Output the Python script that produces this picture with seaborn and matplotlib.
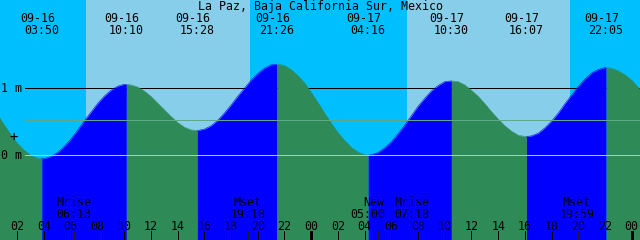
import numpy as np
import pandas as pd
import matplotlib
matplotlib.use("Agg")
import matplotlib.pyplot as plt
import matplotlib.transforms as mtransforms
import seaborn as sns

# ---------------- data ----------------
title = "La Paz, Baja California Sur, Mexico"

# tide level readings (m) every half hour since 09-16 00:00
hours = [i * 0.5 for i in range(0, 99)]
levels = [0.77, 0.61, 0.46, 0.31, 0.18, 0.08, 0.00, -0.04, -0.05, -0.02,
          0.04, 0.13, 0.24, 0.37, 0.51, 0.64, 0.77, 0.88, 0.97, 1.03,
          1.06, 1.05, 1.02, 0.96, 0.88, 0.78, 0.68, 0.58, 0.49, 0.42,
          0.38, 0.37, 0.39, 0.44, 0.52, 0.63, 0.75, 0.88, 1.00, 1.12,
          1.22, 1.30, 1.35, 1.36, 1.34, 1.28, 1.19, 1.08, 0.94, 0.79,
          0.63, 0.48, 0.34, 0.22, 0.12, 0.05, 0.01, 0.01, 0.04, 0.11,
          0.20, 0.32, 0.45, 0.59, 0.73, 0.85, 0.96, 1.04, 1.10, 1.11,
          1.10, 1.05, 0.97, 0.88, 0.77, 0.65, 0.54, 0.44, 0.36, 0.30,
          0.28, 0.29, 0.33, 0.41, 0.51, 0.63, 0.77, 0.90, 1.03, 1.14,
          1.23, 1.28, 1.31, 1.30, 1.26, 1.20, 1.12, 1.01, 0.89]

# high / low tide events
event_dates = ["09-16", "09-16", "09-16", "09-16", "09-17", "09-17", "09-17", "09-17"]
event_times = ["03:50", "10:10", "15:28", "21:26", "04:16", "10:30", "16:07", "22:05"]
event_levels = [-0.05, 1.06, 0.37, 1.36, 0.00, 1.11, 0.28, 1.31]

# sun
sunrise_dates = ["09-16", "09-17"]
sunrise_times = ["07:09", "07:11"]
sunset_times = ["19:25", "19:23"]

# moon events
moon_names = ["Mrise", "Mset", "New", "Mrise", "Mset"]
moon_dates = ["09-16", "09-16", "09-17", "09-17", "09-17"]
moon_times = ["06:13", "19:18", "05:00", "07:18", "19:59"]

y_label_texts = ["1 m", "0 m"]
y_label_values = [1.0, 0.0]
mean_level = 0.52

# ---------------- layout ----------------
W, H = 640, 240
X0_H, X1_H = 0.7045, 48.62          # hours shown at left/right edge
PX_PER_M, ZERO_PX = 67.0, 155.3
Y_TOP = ZERO_PX / PX_PER_M
Y_BOT = (ZERO_PX - H) / PX_PER_M

NIGHT = "#00bfff"
DAY = "#87ceeb"
RISE = "#0000ff"
FALL = "#2e8b57"
FONT = dict(family="DejaVu Sans Mono", size=8.4, color="black")
PX = 0.72  # one pixel in points

date_dx = -4.5
moon_name_dx = [0, -1, -3.7, 3.5, -2]
moon_time_dx = [0, 0, -10, 3.5, -1]


def to_hours(d, t):
    day = int(d[3:]) - 16
    hh, mm = t.split(":")
    return day * 24 + int(hh) + int(mm) / 60.0


def fy(py):
    return 1 - py / H


ev_h = [to_hours(d, t) for d, t in zip(event_dates, event_times)]
rise_h = [to_hours(d, t) for d, t in zip(sunrise_dates, sunrise_times)]
set_h = [to_hours(d, t) for d, t in zip(sunrise_dates, sunset_times)]
moon_h = [to_hours(d, t) for d, t in zip(moon_dates, moon_times)]

fig = plt.figure(figsize=(W / 100, H / 100), dpi=100)
fig.patch.set_facecolor(NIGHT)
ax = fig.add_axes([0, 0, 1, 1])

# daylight
for r, s in zip(rise_h, set_h):
    ax.axvspan(r, s, color=DAY, zorder=0, lw=0)

# 1 m line (behind the water)
ax.axhline(1.0, xmin=25 / W, xmax=1, color="black", lw=PX, zorder=1,
           antialiased=False)

# tide series
pts = sorted(zip(list(hours) + ev_h, list(levels) + event_levels))
t_all = np.array([p[0] for p in pts])
v_all = np.array([p[1] for p in pts])
bounds = [t_all.min()] + ev_h + [t_all.max()]
frames = []
palette = {}
for i in range(len(bounds) - 1):
    a, b = bounds[i], bounds[i + 1]
    m = (t_all >= a) & (t_all <= b)
    ts, vs = t_all[m], v_all[m]
    col = RISE if vs[-1] > vs[0] else FALL
    ax.fill_between(ts, vs, Y_BOT, color=col, lw=0, zorder=2)
    frames.append(pd.DataFrame({"hour": ts, "level": vs, "seg": i}))
    palette[i] = col
df = pd.concat(frames, ignore_index=True)
sns.lineplot(data=df, x="hour", y="level", hue="seg", palette=palette,
             estimator=None, sort=False, legend=False, lw=0.4, ax=ax, zorder=2)
ax.set_xlim(X0_H, X1_H)
ax.set_ylim(Y_BOT, Y_TOP)
ax.axis("off")

# mean level and datum lines (over the water)
ax.axhline(mean_level, xmin=25 / W, xmax=1, color="#5ea98c", lw=PX, zorder=3,
           antialiased=False)
ax.axhline(0.0, xmin=25 / W, xmax=1, color="#8fd3ea", lw=PX, zorder=3,
           antialiased=False)

# y labels and marker
for txt, val in zip(y_label_texts, y_label_values):
    base_px = ZERO_PX - val * PX_PER_M + 4
    fig.text(1 / W, fy(base_px), txt, ha="left", va="baseline", **FONT, zorder=5)
fig.text(13.5 / W, fy(141.5), "+", ha="center", va="baseline",
         family="DejaVu Sans Mono", size=10, color="black", zorder=5)

trans = mtransforms.blended_transform_factory(ax.transData, fig.transFigure)

# title
fig.text(0.5, fy(10), title, ha="center", va="baseline", **FONT, zorder=5)

# tide event labels
for h, d, t in zip(ev_h, event_dates, event_times):
    tr = mtransforms.offset_copy(trans, fig=fig, x=date_dx, y=0, units="dots")
    ax.text(h, fy(21.7), d, transform=tr, ha="center", va="baseline", **FONT, zorder=5)
    ax.text(h, fy(34), t, transform=trans, ha="center", va="baseline", **FONT, zorder=5)

# hour ticks and labels
for h in range(2, 49, 2):
    lw = 3 * PX if h % 24 == 0 else PX
    ax.plot([h, h], [0, 9 / H], transform=trans, color="black", lw=lw,
            solid_capstyle="butt", zorder=4, antialiased=False)
    ax.text(h, fy(230), f"{h % 24:02d}", transform=trans, ha="center",
            va="baseline", **FONT, zorder=5)

# moon events
for h, n, t, dn, dt in zip(moon_h, moon_names, moon_times, moon_name_dx, moon_time_dx):
    ax.plot([h, h], [0, 9 / H], transform=trans, color="#1c1c1c", lw=PX,
            zorder=4, antialiased=False)
    trn = mtransforms.offset_copy(trans, fig=fig, x=dn, y=0, units="dots")
    trt = mtransforms.offset_copy(trans, fig=fig, x=dt, y=0, units="dots")
    ax.text(h, fy(206), n, transform=trn, ha="center", va="baseline", **FONT, zorder=5)
    ax.text(h, fy(217.7), t, transform=trt, ha="center", va="baseline", **FONT, zorder=5)

fig.savefig("out.png", dpi=100, facecolor=fig.get_facecolor())
